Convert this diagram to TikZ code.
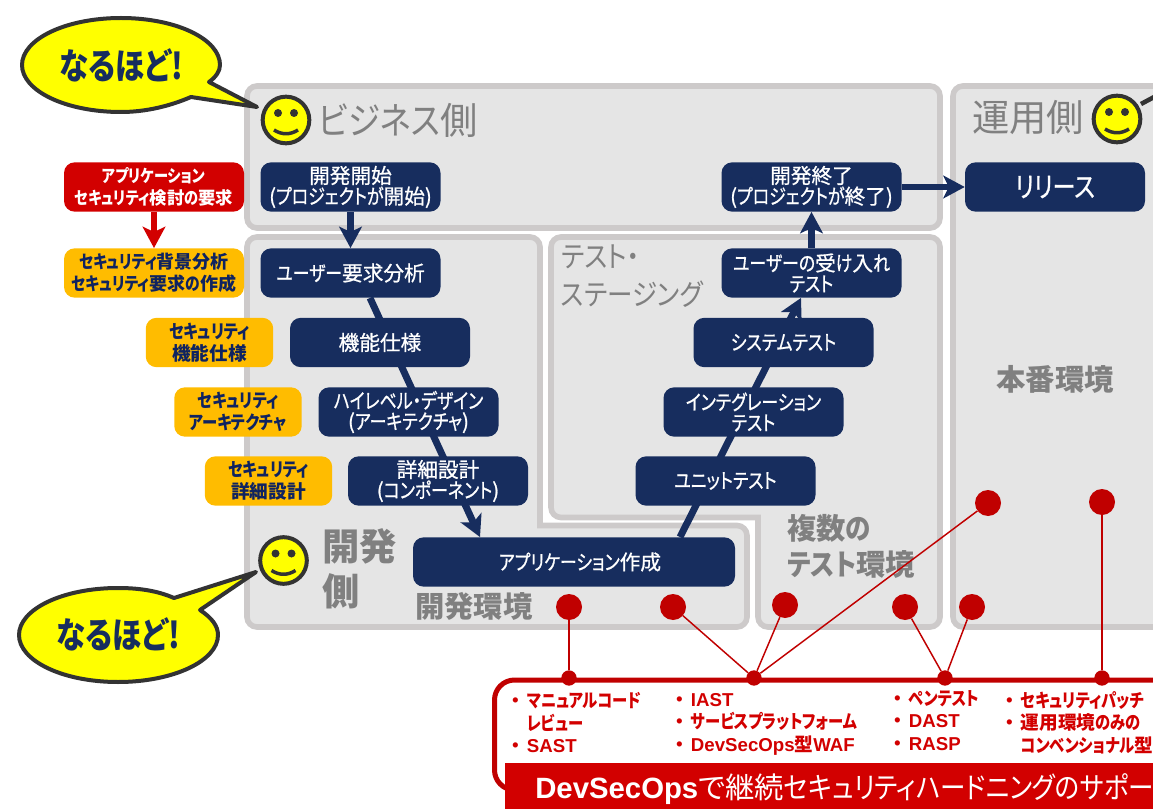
\documentclass[tikz,border=0pt]{standalone}
\usepackage{fontspec}
\setmainfont[RawFeature={+palt}]{Noto Sans CJK JP}
\newfontfamily\cjkmid[RawFeature={+palt},FakeBold=0.8]{Noto Sans CJK JP}
\newfontfamily\latinb{Liberation Sans}
\newcommand{\K}[1]{{\addfontfeature{FakeStretch=0.82}#1}}
\newcommand{\Kz}[1]{{\addfontfeature{FakeStretch=0.87}#1}}
\usetikzlibrary{arrows.meta,calc}
\pgfdeclarelayer{frames}
\pgfdeclarelayer{conn}
\pgfsetlayers{frames,conn,main}
\definecolor{navy}{HTML}{172D5E}
\definecolor{frameg}{HTML}{CDCACA}
\definecolor{fillg}{HTML}{E5E5E5}
\definecolor{txtg}{HTML}{808080}
\definecolor{rd}{HTML}{D20000}
\definecolor{drd}{HTML}{C00000}
\definecolor{org}{HTML}{FFBC00}
\definecolor{ink}{HTML}{333333}
\definecolor{dtxt}{HTML}{0F2360}
\definecolor{yel}{RGB}{255,255,0}
\tikzset{
 x=0.75pt,y=-0.75pt,
 zone/.style={draw=frameg,fill=fillg,line width=4.2pt,rounded corners=7.5pt},
 task/.style={fill=navy,draw=none,rounded corners=8pt,minimum width=135pt,minimum height=37pt,inner sep=0pt,text=white,align=center,font=\fontsize{15.5}{15.5}\cjkmid},
 sec/.style={fill=org,draw=none,rounded corners=8pt,minimum height=37pt,inner sep=0pt,text=dtxt,align=center,font=\fontsize{14}{16.5}\selectfont\bfseries},
 flow/.style={line width=5.2pt,navy,-{Stealth[length=16pt,width=17pt,inset=4pt]}},
 zonelabel/.style={text=txtg,inner sep=0pt,align=left},
 reddot/.style={circle,fill=drd,draw=none,minimum width=19.5pt,inner sep=0pt},
 joint/.style={circle,fill=drd,draw=none,minimum width=11.5pt,inner sep=0pt},
 redline/.style={drd,line width=1.1pt},
 redtext/.style={text=rd,inner sep=0pt,anchor=north west,align=left,font=\fontsize{14}{16.9}\selectfont\bfseries},
 face/.style={circle,fill=yel,draw=ink,line width=3pt,minimum width=35pt,inner sep=0pt},
 balloon/.style={fill=yel,draw=ink,line width=3pt,line join=round},
 balloontext/.style={inner sep=0pt,text=navy,font=\fontsize{27}{27}\selectfont\bfseries},
}
\newcommand{\smiley}[3]{%
 \node[face] (#3) at (#1,#2) {};
 \fill[ink] (#1-8,#2-7) circle (3pt) (#1+8,#2-7) circle (3pt);
 \draw[ink,line width=2.6pt] (#1-12,#2+10) .. controls (#1-4,#2+15) and (#1+4,#2+15) .. (#1+12,#2+10);
}
\newcommand{\bul}{\makebox[11pt][l]{\hspace{-1pt}・}}
\begin{document}
\begin{tikzpicture}
\useasboundingbox (0,0) rectangle (1153,809);
% frames
\begin{pgfonlayer}{frames}
\draw[zone] (247,86) rectangle (940,228);
\draw[zone] (953,86) -- (1175,86) -- (1175,627) -- (953,627) -- cycle;
\draw[zone] (247,237) -- (540,237) [sharp corners] -- (540,525.5) [rounded corners=7.5pt] -- (747,525.5) -- (747,627) -- (247,627) -- cycle;
\draw[zone] (551,237) -- (940,237) -- (940,627) -- (758,627) [sharp corners] -- (758,517.5) [rounded corners=7.5pt] -- (551,517.5) -- cycle;
\end{pgfonlayer}
% zone labels
\node[zonelabel,font=\fontsize{28}{32}\selectfont,anchor=west] (lbiz) at (318,120) {\Kz{ビジネス}側};
\node[zonelabel,font=\fontsize{28}{32}\selectfont,anchor=west] (lops) at (972,118) {運用側};
\node[zonelabel,font=\fontsize{22}{28}\selectfont,anchor=north west] (lts) at (561,245) {\Kz{テスト・}\\\Kz{ステージング}};
\node[zonelabel,font=\fontsize{22}{27}\selectfont\bfseries,anchor=center] (lprod) at (1055,379) {本番環境};
\node[zonelabel,font=\fontsize{22}{27}\selectfont\bfseries,anchor=north west] (lmt) at (787,514) {複数\Kz{の}\\\Kz{テスト}環境};
\node[zonelabel,font=\fontsize{28}{33.75}\selectfont\bfseries,anchor=north west] (ldev) at (322,528) {開発\\側};
\node[zonelabel,font=\fontsize{22}{27}\selectfont\bfseries,anchor=west] (lenv) at (415,606) {開発環境};
% tasks
\node[task] (t1) at (350.5,187) {開発開始\\(\K{プロジェクトが}開始)};
\node[task] (t2) at (350.5,273) {\K{ユーザー}要求分析};
\node[task] (t3) at (380,342.5) {機能仕様};
\node[task] (t4) at (408.5,412) {\K{ハイレベル・デザイン}\\(\K{アーキテクチャ})};
\node[task] (t5) at (438,481) {詳細設計\\(\K{コンポーネント})};
\node[task,minimum width=241.5pt] (t6) at (574,562) {\hspace*{9pt}\K{アプリケーション}作成};
\node[task] (u1) at (725.5,481) {\K{ユニットテスト}};
\node[task] (u2) at (753.5,412) {\K{インテグレーション}\\\K{テスト}};
\node[task] (u3) at (783.5,342.5) {\K{システムテスト}};
\node[task] (u4) at (811.5,273) {\K{ユーザーの}受\K{け}入\K{れ}\\\K{テスト}};
\node[task] (u5) at (811.5,187) {開発終了\\(\K{プロジェクトが}終了)};
\node[task,font=\fontsize{21}{22}\cjkmid] (rel) at (1055,187) {\K{リリース}};
% security
\node[sec,fill=rd,text=white,minimum width=135pt,font=\fontsize{13}{16}\selectfont\bfseries] (s0) at (154,187) {\K{アプリケーション}\\\K{セキュリティ}検討\K{の}要求};
\node[sec,minimum width=135pt,font=\fontsize{13.5}{16.5}\selectfont\bfseries] (s1) at (154,273) {\K{セキュリティ}背景分析\\\K{セキュリティ}要求\K{の}作成};
\node[sec,minimum width=95.6pt] (s2) at (209.5,342.5) {\K{セキュリティ}\\機能仕様};
\node[sec,minimum width=95.6pt] (s3) at (238,412) {\K{セキュリティ}\\\K{アーキテクチャ}};
\node[sec,minimum width=95.6pt] (s4) at (268.5,481) {\K{セキュリティ}\\詳細設計};
% flows
\begin{pgfonlayer}{conn}
\draw[line width=5.2pt,rd,-{Stealth[length=16pt,width=17pt,inset=4pt]}] (s0) -- (s1);
\draw[flow] (t1) -- (t2);
\draw[flow] ($(t2.south)+(19.5,0)$) -- ($(t6.north)+(-94,0)$);
\draw[flow] ($(t6.north)+(106,0)$) -- ($(u4.south)+(-10.5,0)$);
\draw[flow] (u4) -- (u5);
\draw[flow] (u5) -- (rel);
\end{pgfonlayer}
% smileys
\smiley{286}{120}{fa}
\smiley{1117}{119}{fb}
\smiley{283.5}{560.5}{fc}
% balloons
\draw[balloon] (209,82) -- (257,107) -- (191,97) .. controls (170,106) and (146,112) .. (121,112) .. controls (66,112) and (22,91) .. (22,65) .. controls (22,39) and (66,18) .. (121,18) .. controls (176,18) and (220,39) .. (220,65) .. controls (220,71) and (216,77) .. (209,82) -- cycle;
\node[balloontext] (ba) at (121,65) {\K{なるほど!}};
\draw[balloon] (174,598) -- (256,572) -- (200,610) .. controls (212,618) and (218,626) .. (218,635) .. controls (218,661) and (173,682) .. (118,682) .. controls (63,682) and (19,661) .. (19,635) .. controls (19,609) and (63,588) .. (118,588) .. controls (140,588) and (158,591) .. (174,598) -- cycle;
\node[balloontext] (bb) at (118,634) {\K{なるほど!}};
\draw[ink,line width=3.4pt] (1141,104) -- (1156,96);
% red box
\draw[drd,line width=3.75pt,rounded corners=15pt] (1170,680) -- (494.5,680) -- (494.5,790) -- (510,790);
\fill[rd] (505,763) rectangle (1153,809);
\node[inner sep=0pt,text=white,anchor=west,font=\fontsize{22}{24}\selectfont] (title) at (535,789) {{\latinb\bfseries DevSecOps}で継続\Kz{セキュリティハードニングのサポー}};
% dots
\node[reddot] (d1) at (569,607) {};
\node[reddot] (d2) at (673,607) {};
\node[reddot] (d3) at (785,605) {};
\node[reddot] (d4) at (905,607) {};
\node[reddot] (d5) at (972,607) {};
\node[reddot] (d6) at (988,503) {};
\node[reddot] (d7) at (1102,502) {};
\node[joint] (j1) at (569,678) {};
\node[joint] (j2) at (754,678) {};
\node[joint] (j3) at (945,678) {};
\node[joint] (j4) at (1102,678) {};
\draw[redline] (d1) -- (j1);
\draw[redline] (d2) -- (j2);
\draw[redline] (d3) -- (j2);
\draw[redline] (d6) -- (j2);
\draw[redline] (d4) -- (j3);
\draw[redline] (d5) -- (j3);
\draw[redline] (d7) -- (j4);
% red texts
\node[redtext] (r1) at (512,692) {\bul\K{マニュアルコード}\\\hspace{11pt}\K{レビュー}\\\bul{\latinb\bfseries SAST}};
\node[redtext] (r2) at (676,693) {\bul{\latinb\bfseries IAST}\\\bul\K{サービスプラットフォーム}\\\bul{\latinb\bfseries DevSecOps}型{\latinb\bfseries WAF}};
\node[redtext] (r3) at (894,690) {\bul\K{ペンテスト}\\\bul{\latinb\bfseries DAST}\\\bul{\latinb\bfseries RASP}};
\node[redtext] (r4) at (1006,691) {\bul\K{セキュリティパッチ}\\\bul 運用環境\K{のみの}\\\hspace{11pt}\K{コンベンショナル}型};
\end{tikzpicture}
\end{document}
